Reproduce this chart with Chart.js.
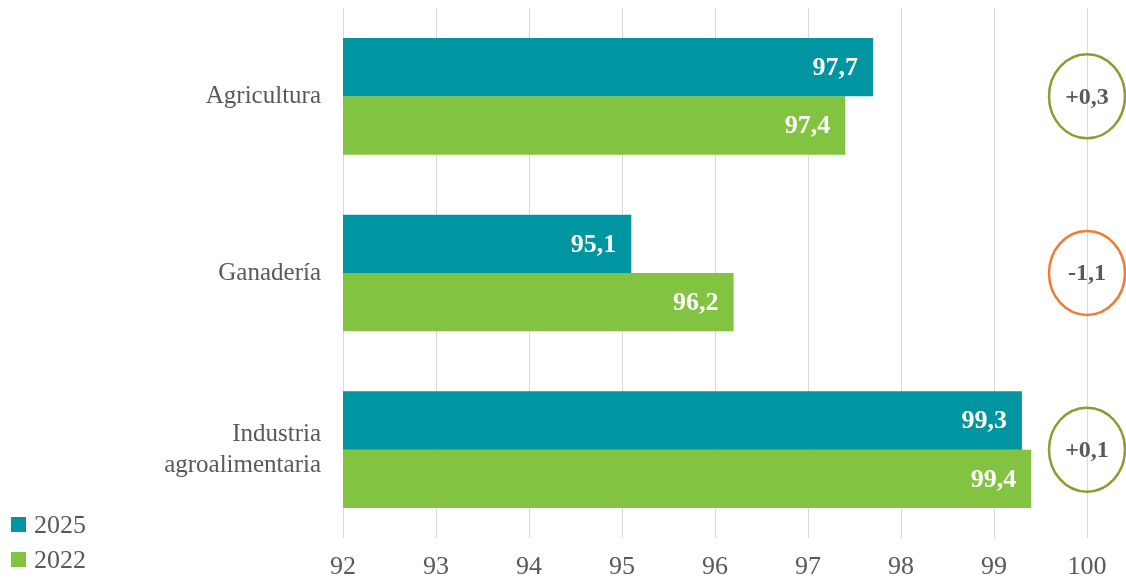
<!DOCTYPE html>
<html>
<head>
<meta charset="utf-8">
<script src="https://cdn.jsdelivr.net/npm/chart.js@4"></script>
<style>
  html, body { margin: 0; padding: 0; background: #fff; }
  #wrap { width: 1126px; height: 578px; }
</style>
</head>
<body>
<div id="wrap"><canvas id="chart" width="1126" height="578"></canvas></div>
<script>
const categories = ['Agricultura', 'Ganadería', ['Industria', 'agroalimentaria']];
const values2025 = [97.7, 95.1, 99.3];
const values2022 = [97.4, 96.2, 99.4];
const diffLabels = ['+0,3', '-1,1', '+0,1'];
const diffColors = ['#8f9a2f', '#f07b32', '#8f9a2f'];
const xTicks = [92, 93, 94, 95, 96, 97, 98, 99, 100];

const FONT = '"Liberation Serif", "DejaVu Serif", serif';
const TEAL = '#0096a1';
const GREEN = '#82c341';

// labels inside bar ends, circles with the change, legend bottom-left
const overlay = {
  id: 'overlay',
  afterDatasetsDraw(chart) {
    const ctx = chart.ctx;
    const x = chart.scales.x, y = chart.scales.y;

    ctx.save();
    ctx.font = 'bold 26px ' + FONT;
    ctx.fillStyle = '#ffffff';
    ctx.textAlign = 'right';
    ctx.textBaseline = 'middle';
    chart.data.datasets.forEach((ds, i) => {
      chart.getDatasetMeta(i).data.forEach((bar, j) => {
        ctx.fillText(ds.data[j].toFixed(1).replace('.', ','), bar.x - 15, bar.y + 1);
      });
    });

    const cx = x.getPixelForValue(100);
    diffLabels.forEach((txt, j) => {
      const cy = y.getPixelForValue(j);
      ctx.beginPath();
      ctx.ellipse(cx, cy, 38, 42, 0, 0, Math.PI * 2);
      ctx.lineWidth = 2.5;
      ctx.strokeStyle = diffColors[j];
      ctx.stroke();
      ctx.font = 'bold 24px ' + FONT;
      ctx.fillStyle = '#595959';
      ctx.textAlign = 'center';
      ctx.fillText(txt, cx, cy + 1);
    });

    ctx.font = '26px ' + FONT;
    ctx.textAlign = 'left';
    chart.data.datasets.forEach((ds, i) => {
      const ly = 525 + i * 35;
      ctx.fillStyle = ds.backgroundColor;
      ctx.fillRect(11, ly - 8, 15, 15);
      ctx.fillStyle = '#595959';
      ctx.fillText(ds.label, 34, ly + 1);
    });
    ctx.restore();
  }
};

new Chart(document.getElementById('chart').getContext('2d'), {
  type: 'bar',
  data: {
    labels: categories,
    datasets: [
      { label: '2025', data: values2025, backgroundColor: TEAL },
      { label: '2022', data: values2022, backgroundColor: GREEN }
    ]
  },
  options: {
    indexAxis: 'y',
    responsive: false,
    animation: false,
    layout: { padding: { top: 8, right: 39, left: 0, bottom: 0 } },
    datasets: { bar: { categoryPercentage: 0.66, barPercentage: 1 } },
    plugins: { legend: { display: false }, tooltip: { enabled: false } },
    scales: {
      x: {
        min: 92,
        max: 100,
        afterBuildTicks: axis => { axis.ticks = xTicks.map(v => ({ value: v })); },
        afterFit: axis => { axis.height = 40; axis.paddingLeft = 0; axis.paddingRight = 0; },
        grid: { color: '#d9d9d9', drawTicks: false },
        border: { display: false },
        ticks: { color: '#595959', font: { family: FONT, size: 26 }, padding: 14 }
      },
      y: {
        afterFit: axis => { axis.width = 343; axis.paddingTop = 0; axis.paddingBottom = 0; },
        grid: { display: false },
        border: { display: false },
        ticks: { color: '#595959', font: { family: FONT, size: 25, lineHeight: 1.25 }, padding: 14 }
      }
    }
  },
  plugins: [overlay]
});
</script>
</body>
</html>
